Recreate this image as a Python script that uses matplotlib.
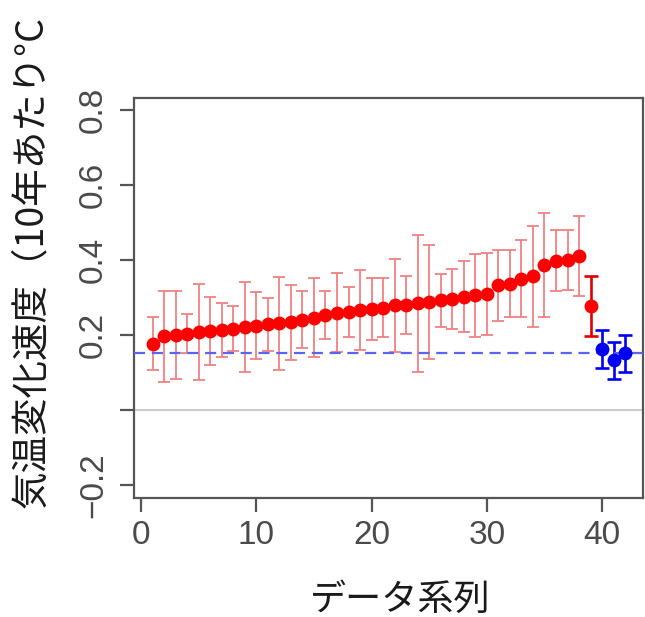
import numpy as np
import matplotlib.pyplot as plt

plt.rcParams['font.family'] = ['Liberation Sans', 'Noto Sans CJK JP', 'DejaVu Sans']
plt.rcParams['axes.unicode_minus'] = True

# warming rate per data series (degC per decade) and error half-width
rate = [0.177, 0.196, 0.200, 0.203, 0.208, 0.211, 0.214, 0.217, 0.222, 0.225,
        0.228, 0.231, 0.234, 0.240, 0.246, 0.252, 0.259, 0.262, 0.266, 0.269,
        0.273, 0.279, 0.280, 0.284, 0.288, 0.292, 0.297, 0.302, 0.306, 0.310,
        0.332, 0.337, 0.350, 0.356, 0.386, 0.398, 0.400, 0.410, 0.276,
        0.163, 0.132, 0.151]
err = [0.071, 0.121, 0.118, 0.052, 0.129, 0.091, 0.072, 0.060, 0.120, 0.090,
       0.070, 0.124, 0.100, 0.076, 0.105, 0.064, 0.105, 0.067, 0.106, 0.082,
       0.078, 0.124, 0.078, 0.183, 0.151, 0.071, 0.080, 0.094, 0.111, 0.109,
       0.094, 0.090, 0.102, 0.134, 0.138, 0.082, 0.080, 0.107, 0.080,
       0.050, 0.050, 0.050]
n_pink = 38   # series drawn with light error bars
n_red = 39    # series drawn in red (rest blue)
baseline = 0.152  # dashed reference rate

xticks = [0, 10, 20, 30, 40]
yticks = [-0.2, 0.0, 0.2, 0.4, 0.6, 0.8]
ylabels = ['\u22120.2', '', '0.2', '0.4', '0.6', '0.8']

x = np.arange(1, len(rate) + 1)
rate = np.array(rate)
err = np.array(err)

fig = plt.figure(figsize=(6.45, 6.17), dpi=100)
ax = fig.add_axes([134/645, 1 - 498/617, 509/645, 400/617])

ax.axhline(0, color='#cccccc', lw=1.5, zorder=1)
ax.errorbar(x[:n_pink], rate[:n_pink], yerr=err[:n_pink], fmt='none',
            ecolor='#f28080', elinewidth=1.3, capsize=4.3, capthick=1.3, zorder=2)
ax.errorbar(x[n_pink:n_red], rate[n_pink:n_red], yerr=err[n_pink:n_red], fmt='none',
            ecolor='#e00000', elinewidth=1.9, capsize=5.2, capthick=1.9, zorder=2)
ax.errorbar(x[n_red:], rate[n_red:], yerr=err[n_red:], fmt='none',
            ecolor='#0000ee', elinewidth=1.9, capsize=4.7, capthick=1.9, zorder=2)
ax.axhline(baseline, color='#5a64f0', lw=1.6, ls=(0, (5, 3)), zorder=3)
ax.plot(x[:n_red], rate[:n_red], 'o', color='#ff0000', ms=10, mec='none', zorder=4)
ax.plot(x[n_red:], rate[n_red:], 'o', color='#0000ee', ms=10, mec='none', zorder=4)

ax.set_xlim(-0.61, 43.55)
ax.set_ylim(-0.235, 0.832)
ax.set_xticks(xticks)
ax.set_yticks(yticks)
ax.set_yticklabels(ylabels)
for s in ax.spines.values():
    s.set_color('#555555')
    s.set_linewidth(1.6)
ax.tick_params(axis='both', direction='out', length=10, width=1.6, color='#555555',
               labelsize=24, labelcolor='#4a4a4a')
ax.tick_params(axis='x', pad=6)
ax.tick_params(axis='y', labelrotation=90, pad=8)
for t in ax.get_yticklabels():
    t.set_va('center')

fig.text(400/645, 1 - 600/617, 'データ系列', fontsize=26, family=['Noto Sans CJK JP'],
         ha='center', va='center', color='#1a1a1a')
fig.text(32/645, 1 - 262/617, '気温変化速度（10年あたり°C', fontsize=27,
         family=['Noto Sans CJK JP'], rotation=90, ha='center', va='center', color='#1a1a1a')

fig.savefig('out.png', dpi=100)
